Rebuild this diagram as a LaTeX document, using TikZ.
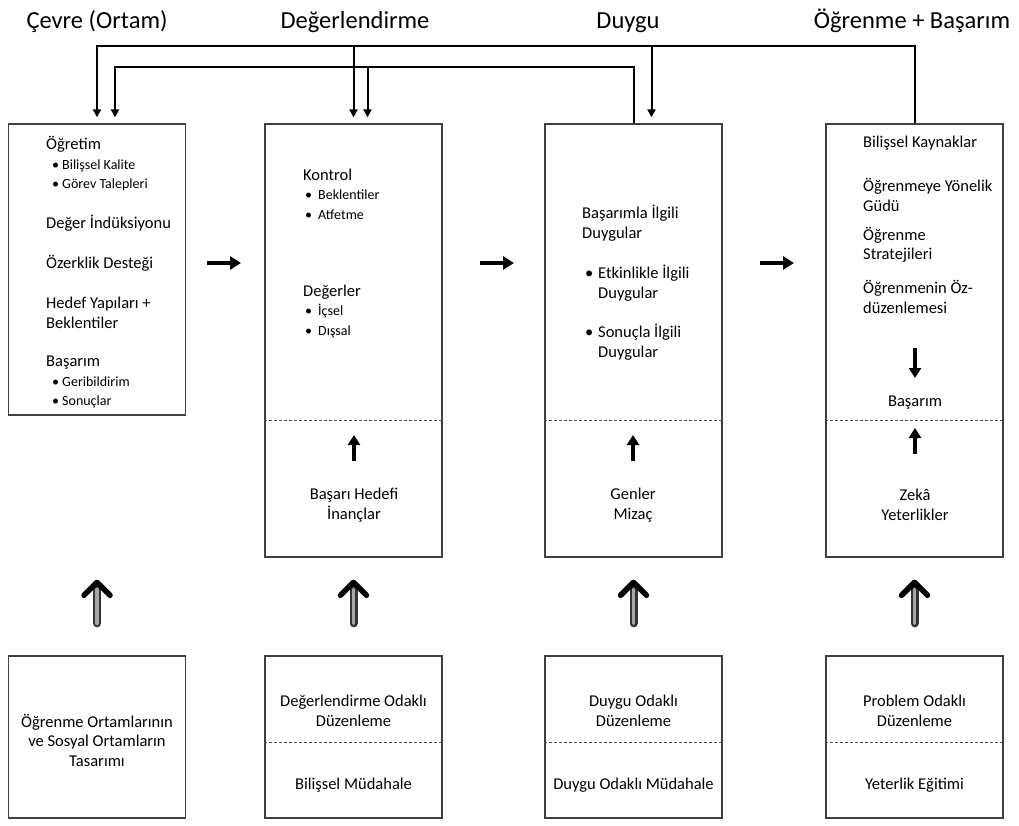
\documentclass[tikz,border=0pt]{standalone}
\usepackage{fontspec}
\setmainfont{Carlito}
\usetikzlibrary{arrows.meta,calc}
\tikzset{
  col/.style={draw=black!75, line width=1.3pt, minimum width=177pt, inner sep=0pt},
  hdr/.style={font=\fontsize{24.5}{29}\selectfont, inner sep=0pt, anchor=base},
  txt/.style={font=\fontsize{16.5}{19.5}\selectfont, align=left, anchor=west, inner sep=0pt},
  ctxt/.style={font=\fontsize{16.5}{19.5}\selectfont, align=center, inner sep=0pt},
  divider/.style={draw=black!70, line width=0.9pt, dash pattern=on 3pt off 2pt},
  fb/.style={line width=2pt, -{Triangle[length=8pt,width=8pt]}, shorten >=6pt},
  flow/.style={line width=3.2pt, -{Triangle[length=11pt,width=13pt]}},
  rise/.style={line width=3.5pt, -{Triangle[length=10pt,width=12pt]}},
}
\newcommand{\bul}[3]{\hspace*{#1}\makebox[#2][l]{\textbullet}#3}
\newcommand{\sml}[1]{{\fontsize{14}{19.5}\selectfont #1}}
\def\liftarrow(#1){%
  \draw[line width=8pt, black!80, line cap=round] ($(#1.north)+(0,-32)$) -- ($(#1.north)+(0,-66)$);
  \draw[line width=3.5pt, black!35, line cap=round] ($(#1.north)+(0,-32)$) -- ($(#1.north)+(0,-66)$);
  \draw[line width=5.5pt, line cap=round, line join=round] ($(#1.north)+(-13,-60)$) -- ($(#1.north)+(0,-73)$) -- ($(#1.north)+(13,-60)$);
}

\begin{document}
\begin{tikzpicture}[x=1pt, y=-1pt]
  \useasboundingbox (0,0) rectangle (1019,826);

  %%%%% HEADERS %%%%%
  \node[hdr] (hEnv) at (97,29) {Çevre (Ortam)};
  \node[hdr] (hAppr) at (355,29) {Değerlendirme};
  \node[hdr] (hEmo) at (628,29) {Duygu};
  \node[hdr] (hLearn) at (912,29) {Öğrenme + Başarım};

  %%%%% TOP BOXES %%%%%
  \node[col, minimum height=291pt] (env) at (97,269.5) {};
  \node[col, minimum height=433pt] (appr) at (353.5,340.5) {};
  \node[col, minimum height=433pt] (emo) at (633.5,340.5) {};
  \node[col, minimum height=433pt] (learn) at (914.5,340.5) {};

  \coordinate (cut) at (0,420);
  \draw[divider] (appr.west |- cut) -- (appr.east |- cut);
  \draw[divider] (emo.west |- cut) -- (emo.east |- cut);
  \draw[divider] (learn.west |- cut) -- (learn.east |- cut);

  % environment
  \node[txt] (instr) at (46,164) {Öğretim\\ \sml{\bul{6pt}{10pt}{Bilişsel Kalite}}\\ \sml{\bul{6pt}{10pt}{Görev Talepleri}}};
  \node[txt] (induct) at (46,223) {Değer İndüksiyonu};
  \node[txt] (auton) at (46,263) {Özerklik Desteği};
  \node[txt] (goals) at (46,313) {Hedef Yapıları +\\Beklentiler};
  \node[txt] (achv) at (46,382) {Başarım\\ \sml{\bul{6pt}{10pt}{Geribildirim}}\\ \sml{\bul{6pt}{10pt}{Sonuçlar}}};

  % appraisal
  \node[txt] (ctrl) at (303,194) {Kontrol\\ \sml{\bul{2pt}{13pt}{Beklentiler}}\\ \sml{\bul{2pt}{13pt}{Atfetme}}};
  \node[txt] (vals) at (303,311) {Değerler\\ \sml{\bul{2pt}{13pt}{İçsel}}\\ \sml{\bul{2pt}{13pt}{Dışsal}}};
  \node[ctxt] (belief) at (354,505) {Başarı Hedefi\\İnançlar};
  \coordinate (belArr) at (354,461);
  \draw[rise] (belArr) -- ++(0,-26);

  % emotion
  \node[txt] (achEmo) at (582,223) {Başarımla İlgili\\Duygular};
  \node[txt] (actEmo) at (582,283) {\bul{3pt}{13pt}{Etkinlikle İlgili}\\ \hspace*{16pt}Duygular};
  \node[txt] (outEmo) at (582,342) {\bul{3pt}{13pt}{Sonuçla İlgili}\\ \hspace*{16pt}Duygular};
  \node[ctxt] (genes) at (633,505) {Genler\\Mizaç};
  \coordinate (genArr) at (633,461);
  \draw[rise] (genArr) -- ++(0,-26);

  % learning
  \node[txt] (cogRes) at (863,143) {Bilişsel Kaynaklar};
  \node[txt] (motiv) at (863,195) {Öğrenmeye Yönelik\\Güdü};
  \node[txt] (strat) at (863,245) {Öğrenme\\Stratejileri};
  \node[txt] (selfReg) at (863,297) {Öğrenmenin Öz-\\düzenlemesi};
  \node[ctxt] (perf) at (915,403) {Başarım};
  \coordinate (perfArr) at (915,348);
  \draw[rise] (perfArr) -- ++(0,30);
  \node[ctxt] (intel) at (915,505) {Zekâ\\Yeterlikler};
  \coordinate (intArr) at (915,454);
  \draw[rise] (intArr) -- ++(0,-26);

  %%%%% FLOW ARROWS %%%%%
  \coordinate (fa1) at (207,263); \coordinate (fb1) at (241,263);
  \coordinate (fa2) at (480,263); \coordinate (fb2) at (514,263);
  \coordinate (fa3) at (760,263); \coordinate (fb3) at (794,263);
  \draw[flow] (fa1) -- (fb1);
  \draw[flow] (fa2) -- (fb2);
  \draw[flow] (fa3) -- (fb3);

  %%%%% FEEDBACK %%%%%
  \coordinate (topA) at (0,46);
  \coordinate (topB) at (0,67);
  \draw[fb] (learn.north) -- (learn.north |- topA) -- (env.north |- topA) -- (env.north);
  \draw[fb] (appr.north |- topA) -- (appr.north);
  \draw[fb] ([xshift=18pt]emo.north |- topA) -- ([xshift=18pt]emo.north);
  \draw[fb] (emo.north) -- (emo.north |- topB) -- ([xshift=18pt]env.north |- topB) -- ([xshift=18pt]env.north);
  \draw[fb] ([xshift=14pt]appr.north |- topB) -- ([xshift=14pt]appr.north);

  %%%%% BOTTOM BOXES %%%%%
  \node[col, minimum height=162pt] (envReg) at (97,737) {};
  \node[col, minimum height=162pt] (apprReg) at (353.5,737) {};
  \node[col, minimum height=162pt] (emoReg) at (633.5,737) {};
  \node[col, minimum height=162pt] (learnReg) at (914.5,737) {};

  \coordinate (botcut) at (0,742);
  \draw[divider] (apprReg.west |- botcut) -- (apprReg.east |- botcut);
  \draw[divider] (emoReg.west |- botcut) -- (emoReg.east |- botcut);
  \draw[divider] (learnReg.west |- botcut) -- (learnReg.east |- botcut);

  \node[ctxt] (design) at (97,740) {Öğrenme Ortamlarının\\ve Sosyal Ortamların\\Tasarımı};
  \node[ctxt] (apprFoc) at (353.5,711) {Değerlendirme Odaklı\\Düzenleme};
  \node[ctxt] (cogInt) at (353.5,785) {Bilişsel Müdahale};
  \node[ctxt] (emoFoc) at (633.5,711) {Duygu Odaklı\\Düzenleme};
  \node[ctxt] (emoInt) at (633.5,785) {Duygu Odaklı Müdahale};
  \node[ctxt] (probFoc) at (914.5,711) {Problem Odaklı\\Düzenleme};
  \node[ctxt] (compTr) at (914.5,785) {Yeterlik Eğitimi};

  \liftarrow(envReg)
  \liftarrow(apprReg)
  \liftarrow(emoReg)
  \liftarrow(learnReg)
\end{tikzpicture}
\end{document}
